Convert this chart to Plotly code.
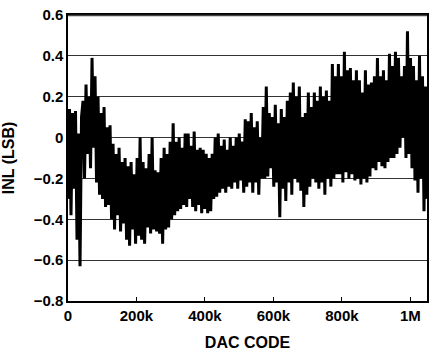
import numpy as np
import plotly.graph_objects as go

inl_values = [
    -0.3, 0.14, -0.38, 0.12, -0.25, 0.13, -0.5, 0.02, -0.63, 0.1,
    0.18, -0.2, 0.26, -0.08, 0.2, -0.15, 0.39, -0.05, 0.3, -0.22,
    0.2, -0.28, 0.12, -0.3, 0.15, -0.34, 0.05, -0.33, 0.06, -0.4,
    -0.03, -0.45, -0.08, -0.38, -0.05, -0.46, -0.12, -0.42, -0.1, -0.5,
    -0.14, -0.53, -0.12, -0.45, -0.18, -0.52, -0.1, -0.48, 0.0, -0.5,
    -0.12, -0.52, -0.15, -0.44, -0.08, -0.47, 0.0, -0.45, -0.16, -0.46,
    -0.17, -0.47, -0.1, -0.52, -0.05, -0.45, -0.08, -0.44, -0.02, -0.4,
    0.07, -0.38, -0.02, -0.36, 0.0, -0.35, -0.05, -0.33, 0.02, -0.34,
    0.02, -0.3, -0.04, -0.34, 0.03, -0.36, -0.06, -0.33, -0.05, -0.37,
    -0.06, -0.35, -0.08, -0.37, -0.1, -0.36, -0.08, -0.3, 0.0, -0.29,
    0.02, -0.27, -0.04, -0.25, -0.01, -0.27, -0.06, -0.24, 0.0, -0.25,
    -0.04, -0.22, 0.0, -0.25, 0.02, -0.21, -0.02, -0.27, 0.09, -0.24,
    0.08, -0.22, 0.12, -0.27, 0.05, -0.22, 0.08, -0.28, 0.0, -0.2,
    0.15, -0.2, 0.25, -0.19, 0.12, -0.15, 0.1, -0.24, 0.16, -0.22,
    0.07, -0.39, 0.14, -0.25, 0.1, -0.31, 0.18, -0.22, 0.22, -0.28,
    0.27, -0.2, 0.2, -0.22, 0.25, -0.26, 0.1, -0.34, 0.12, -0.28,
    0.22, -0.24, 0.15, -0.2, 0.22, -0.22, 0.18, -0.25, 0.25, -0.22,
    0.2, -0.28, 0.23, -0.2, 0.18, -0.24, 0.36, -0.2, 0.3, -0.18,
    0.36, -0.18, 0.3, -0.22, 0.42, -0.17, 0.33, -0.2, 0.34, -0.18,
    0.28, -0.21, 0.33, -0.2, 0.28, -0.23, 0.22, -0.2, 0.33, -0.22,
    0.26, -0.19, 0.27, -0.15, 0.3, -0.16, 0.39, -0.12, 0.3, -0.14,
    0.33, -0.15, 0.28, -0.12, 0.41, -0.1, 0.35, -0.1, 0.42, -0.08,
    0.39, -0.05, 0.3, 0.0, 0.35, -0.1, 0.52, -0.08, 0.39, -0.15,
    0.35, -0.21, 0.28, -0.27, 0.4, -0.2, 0.3, -0.36, 0.25, -0.3,
]
dac_codes = np.linspace(0, 1048575, len(inl_values))

x_tickvals = [0, 200000, 400000, 600000, 800000, 1000000]
x_ticktext = ["0", "200k", "400k", "600k", "800k", "1M"]
y_tickvals = [-0.8, -0.6, -0.4, -0.2, 0, 0.2, 0.4, 0.6]
y_ticktext = ["\u22120.8", "\u22120.6", "\u22120.4", "\u22120.2", "0", "0.2", "0.4", "0.6"]

font_family = "Liberation Sans, Arial, sans-serif"

fig = go.Figure()
fig.add_trace(go.Scatter(
    x=dac_codes, y=inl_values, mode="lines",
    line=dict(color="black", width=3),
    showlegend=False, hoverinfo="skip",
))

fig.update_layout(
    width=436, height=354,
    margin=dict(l=68, r=9, t=15, b=53),
    paper_bgcolor="white", plot_bgcolor="white",
    font=dict(family=font_family, color="black"),
    shapes=[dict(type="line", xref="paper", yref="paper", x0=0, x1=1, y0=0.998, y1=0.998,
                 line=dict(color="#444444", width=1.5), layer="above")],
)
fig.update_xaxes(
    range=[0, 1048576], automargin=False,
    tickvals=x_tickvals, ticktext=x_ticktext,
    tickfont=dict(size=15, weight="bold"),
    ticks="inside", ticklen=4, tickcolor="black",
    showgrid=False, zeroline=False,
    showline=True, linecolor="black", linewidth=1.5, mirror=True,
    title=dict(text="DAC CODE", font=dict(size=16, weight="bold"), standoff=14),
)
fig.update_yaxes(
    range=[-0.8, 0.6], automargin=False,
    tickvals=y_tickvals, ticktext=y_ticktext,
    tickfont=dict(size=15, weight="bold"),
    ticklabeloverflow="allow",
    ticks="", showgrid=True, gridcolor="#333333", gridwidth=1,
    zeroline=False,
    showline=True, linecolor="black", linewidth=1.5, mirror=True,
    title=dict(text="INL (LSB)", font=dict(size=16, weight="bold"), standoff=15),
)

fig.write_html(
    "out.html",
    config={"displayModeBar": False},
    post_script="document.body.style.margin='0';document.body.style.overflow='hidden';",
)
